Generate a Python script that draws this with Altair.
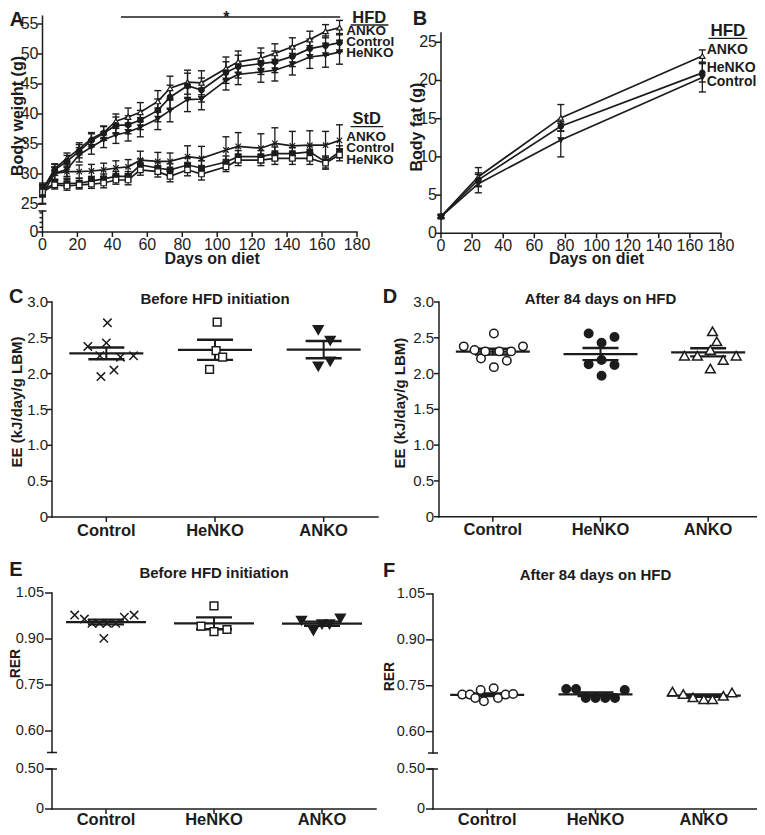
import altair as alt
import pandas as pd

FONT = "Liberation Sans"
INK = "#1c1c1c"
W, H = 749, 819          # drawing canvas (page minus the 8px margin)
XPATH = "M-1,-1L1,1M-1,1L1,-1"

# ================= A : body weight (g) =================
days_a = [0, 7, 14, 21, 28, 35, 42, 49, 56, 66, 73, 83, 91, 105, 112, 125, 133, 143, 153, 162, 170]
hfd_anko = [27.3, 30.9, 32.6, 34.2, 35.9, 36.9, 38.8, 39.5, 40.3, 42.1, 44.3, 45.3, 45.2, 47.6, 48.7, 49.3, 50.1, 51.2, 52.4, 53.8, 54.4]
hfd_anko_se = [1.0, 0.8, 0.9, 1.0, 1.0, 1.0, 1.2, 1.5, 1.6, 1.8, 2.0, 2.0, 2.0, 1.9, 1.8, 1.7, 1.6, 1.5, 1.4, 1.1, 1.2]
hfd_control = [27.2, 30.7, 32.1, 33.8, 35.6, 36.8, 38.1, 38.2, 39.0, 40.6, 42.8, 44.7, 44.0, 46.9, 47.9, 48.4, 48.7, 49.6, 50.9, 51.4, 51.9]
hfd_control_se = [1.0, 0.9, 1.0, 1.1, 1.1, 1.2, 1.4, 1.5, 1.6, 1.9, 2.0, 2.1, 2.0, 1.8, 1.9, 1.8, 1.8, 1.7, 1.6, 1.6, 1.5]
hfd_henko = [26.6, 30.1, 30.8, 33.2, 34.5, 35.7, 36.5, 37.0, 37.8, 39.2, 40.6, 42.4, 42.5, 45.6, 46.6, 47.0, 47.3, 48.3, 49.5, 49.8, 50.3]
hfd_henko_se = [1.5, 1.1, 1.2, 1.2, 1.2, 1.3, 1.4, 1.5, 1.6, 1.8, 1.9, 2.0, 1.8, 1.6, 1.7, 1.7, 1.8, 1.8, 1.9, 2.0, 2.0]
std_anko = [27.5, 30.1, 30.4, 30.4, 30.5, 30.7, 31.0, 31.2, 32.3, 32.1, 32.1, 32.9, 32.6, 34.0, 34.6, 34.3, 35.1, 34.7, 34.8, 34.8, 35.6]
std_anko_se = [1.0, 1.0, 1.1, 1.1, 1.1, 1.1, 1.2, 1.2, 1.5, 1.5, 1.4, 1.8, 2.0, 2.2, 2.3, 2.4, 2.6, 2.4, 2.4, 2.3, 2.6]
std_control = [27.3, 28.4, 28.4, 28.5, 28.8, 29.2, 29.6, 29.6, 31.5, 31.0, 30.7, 31.5, 31.0, 32.0, 32.9, 32.9, 33.4, 33.4, 33.7, 32.0, 33.7]
std_control_se = [0.8, 0.7, 0.7, 0.8, 0.8, 0.8, 0.8, 0.8, 1.0, 1.0, 1.0, 1.2, 1.2, 1.0, 1.0, 1.0, 1.1, 1.0, 1.0, 1.0, 1.0]
std_henko = [27.0, 28.2, 28.0, 28.2, 28.3, 28.5, 29.0, 29.0, 30.7, 30.4, 29.6, 30.7, 30.0, 31.2, 32.3, 32.3, 32.6, 32.6, 32.6, 31.8, 33.2]
std_henko_se = [0.8, 0.7, 0.7, 0.7, 0.7, 0.8, 0.7, 0.8, 0.9, 0.9, 0.9, 1.0, 1.0, 0.8, 0.9, 0.9, 1.0, 1.0, 1.0, 1.0, 1.0]
ticks_days = [0, 20, 40, 60, 80, 100, 120, 140, 160, 180]
labels_days = ["0", "20", "40", "60", "80", "100", "120", "140", "160", "180"]
ticks_a_major = [0, 25, 30, 35, 40, 45, 50, 55]
labels_a_major = ["0", "25", "30", "35", "40", "45", "50", "55"]
ticks_a_minor = [5, 10, 15, 20]

# ================= B : body fat (g) =================
days_b = [0, 24, 77, 168]
fat_anko = [2.2, 7.4, 15.1, 23.2]
fat_anko_se = [0.2, 1.2, 1.75, 0.8]
fat_henko = [2.2, 7.0, 14.0, 21.0]
fat_henko_se = [0.2, 0.9, 0.6, 1.2]
fat_control = [2.2, 6.5, 12.2, 20.4]
fat_control_se = [0.2, 1.2, 2.2, 1.9]
ticks_b = [0, 5, 10, 15, 20, 25]
labels_b = ["0", "5", "10", "15", "20", "25"]

# ================= C-F : scatter panels =================
groups = ["Control", "HeNKO", "ANKO"]
ee_pre_control = [2.71, 2.38, 2.43, 2.25, 2.23, 2.25, 2.05, 1.96]
ee_pre_control_jit = [0.01, -0.17, 0.0, -0.06, 0.13, 0.25, 0.07, -0.05]
ee_pre_henko = [2.72, 2.32, 2.23, 2.06]
ee_pre_henko_jit = [0.02, 0.01, 0.07, -0.05]
ee_pre_anko = [2.61, 2.46, 2.10, 2.17]
ee_pre_anko_jit = [-0.05, 0.06, -0.05, 0.06]

ee_post_control = [2.56, 2.38, 2.33, 2.38, 2.21, 2.31, 2.31, 2.31, 2.18, 2.09]
ee_post_control_jit = [0.01, -0.27, -0.17, 0.28, -0.11, -0.07, 0.06, 0.17, 0.13, 0.01]
ee_post_henko = [2.56, 2.51, 2.43, 2.13, 2.19, 2.12, 1.97]
ee_post_henko_jit = [-0.11, 0.13, 0.01, -0.11, 0.01, 0.13, 0.01]
ee_post_anko = [2.59, 2.45, 2.25, 2.25, 2.33, 2.19, 2.25, 2.07]
ee_post_anko_jit = [0.04, 0.08, -0.22, -0.10, 0.02, 0.14, 0.26, 0.02]

rer_pre_control = [0.978, 0.978, 0.971, 0.965, 0.951, 0.951, 0.951, 0.951, 0.902]
rer_pre_control_jit = [-0.29, 0.26, 0.17, -0.20, -0.13, -0.06, 0.01, 0.09, -0.02]
rer_pre_henko = [1.008, 0.942, 0.924, 0.931]
rer_pre_henko_jit = [0.0, -0.12, 0.0, 0.12]
rer_pre_anko = [0.960, 0.927, 0.967, 0.948, 0.948]
rer_pre_anko_jit = [-0.19, -0.08, 0.17, 0.0, 0.07]

rer_post_control = [0.721, 0.721, 0.736, 0.742, 0.710, 0.699, 0.710, 0.721, 0.723]
rer_post_control_jit = [-0.23, -0.16, -0.06, 0.06, -0.11, -0.03, 0.10, 0.17, 0.24]
rer_post_henko = [0.739, 0.739, 0.736, 0.710, 0.710, 0.710, 0.710]
rer_post_henko_jit = [-0.27, -0.18, 0.27, -0.09, 0.0, 0.09, 0.18]
rer_post_anko = [0.731, 0.723, 0.712, 0.706, 0.706, 0.717, 0.728]
rer_post_anko_jit = [-0.29, -0.19, -0.10, 0.0, 0.08, 0.18, 0.26]

ticks_ee = [0, 0.5, 1.0, 1.5, 2.0, 2.5, 3.0]
labels_ee = ["0", "0.5", "1.0", "1.5", "2.0", "2.5", "3.0"]
ticks_rer = [0, 0.5, 0.6, 0.75, 0.9, 1.05]
labels_rer = ["0", "0.50", "0.60", "0.75", "0.90", "1.05"]


# ---------------- helpers ----------------
def scale(domain, rng):
    return alt.Scale(domain=domain, range=rng, nice=False, zero=False)


def qx(field, sc):
    return alt.X(field, type="quantitative", scale=sc, axis=None)


def qy(field, sc):
    return alt.Y(field, type="quantitative", scale=sc, axis=None)


def text_layer(df, sc_x, sc_y, size, align="left", weight="bold", baseline="middle", **kw):
    return alt.Chart(df).mark_text(align=align, baseline=baseline, font=FONT, fontSize=size,
                                   fontWeight=weight, color=INK, **kw).encode(
        x=qx("x", sc_x), y=qy("y", sc_y), text="t:N")


def rule_h(x1, x2, y, sc_x, sc_y, width=1.5):
    df = pd.DataFrame({"x": x1, "x2": x2, "y": y})
    return alt.Chart(df).mark_rule(color=INK, strokeWidth=width, strokeCap="square").encode(
        x=qx("x", sc_x), x2="x2:Q", y=qy("y", sc_y))


def rule_v(x, y1, y2, sc_x, sc_y, width=1.5):
    df = pd.DataFrame({"x": [x] * len(y1), "y": y1, "y2": y2})
    return alt.Chart(df).mark_rule(color=INK, strokeWidth=width, strokeCap="square").encode(
        x=qx("x", sc_x), y=qy("y", sc_y), y2="y2:Q")


def x_axis(sc_x, sc_y, y0, ticks, labels, font, bold, label_off, tick_len=5):
    df = pd.DataFrame({"x": ticks, "y": [y0] * len(ticks), "t": labels})
    return [
        alt.Chart(df).mark_tick(orient="vertical", size=tick_len, thickness=1.5, color=INK,
                                opacity=1, yOffset=tick_len / 2).encode(x=qx("x", sc_x), y=qy("y", sc_y)),
        text_layer(df, sc_x, sc_y, font, align="center", weight="bold" if bold else "normal",
                   yOffset=label_off),
    ]


def y_axis(sc_x, sc_y, x0, ticks, labels, font, label_off, tick_len=5):
    df = pd.DataFrame({"x": [x0] * len(ticks), "y": ticks, "t": labels})
    layers = [alt.Chart(df).mark_tick(orient="horizontal", size=tick_len, thickness=1.5, color=INK,
                                      opacity=1, xOffset=-tick_len / 2).encode(
        x=qx("x", sc_x), y=qy("y", sc_y))]
    if labels is not None:
        layers.append(text_layer(df, sc_x, sc_y, font, align="right", weight="normal",
                                 xOffset=-label_off))
    return layers


def y_title(text, x, y, sc_x, sc_y, off, size):
    df = pd.DataFrame({"t": [text], "x": [x], "y": [y]})
    return text_layer(df, sc_x, sc_y, size, align="center", angle=270, xOffset=off)


def line_panel(series, days, styles, sc_x, sc_y, cap, msize):
    rows = []
    for key, (vals, ses) in series.items():
        for d, v, s in zip(days, vals, ses):
            rows.append(dict(key=key, day=d, value=v, lo=v - s, hi=v + s))
    df = pd.DataFrame(rows)
    base = alt.Chart(df)
    layers = [
        base.mark_line(color=INK, strokeWidth=1.7).encode(
            x=qx("day", sc_x), y=qy("value", sc_y), detail="key:N"),
        base.mark_rule(color=INK, strokeWidth=1.3).encode(
            x=qx("day", sc_x), y=qy("lo", sc_y), y2="hi:Q"),
        base.mark_tick(orient="horizontal", size=cap, thickness=1.4, color=INK, opacity=1).encode(
            x=qx("day", sc_x), y=qy("lo", sc_y)),
        base.mark_tick(orient="horizontal", size=cap, thickness=1.4, color=INK, opacity=1).encode(
            x=qx("day", sc_x), y=qy("hi", sc_y)),
    ]
    for key, st in styles.items():
        layers.append(base.transform_filter(alt.datum.key == key).mark_point(
            size=msize, strokeWidth=1.2, opacity=1, **st).encode(
            x=qx("day", sc_x), y=qy("value", sc_y)))
    return layers


# ---------------- Panel A ----------------
xA = scale([0, 180], [34.5, 349])
yA = scale([0, 22, 25, 55], [224, 203, 196, 16])
styles_a = {
    "HFD ANKO": dict(shape="triangle-up", filled=True, fill="white", stroke=INK),
    "HFD Control": dict(shape="circle", filled=True, fill=INK, stroke=INK),
    "HFD HeNKO": dict(shape="triangle-down", filled=True, fill=INK, stroke=INK),
    "StD ANKO": dict(shape=XPATH, filled=False, stroke=INK),
    "StD Control": dict(shape="square", filled=True, fill=INK, stroke=INK),
    "StD HeNKO": dict(shape="square", filled=True, fill="white", stroke=INK),
}
series_a = {
    "HFD ANKO": (hfd_anko, hfd_anko_se), "HFD Control": (hfd_control, hfd_control_se),
    "HFD HeNKO": (hfd_henko, hfd_henko_se), "StD ANKO": (std_anko, std_anko_se),
    "StD Control": (std_control, std_control_se), "StD HeNKO": (std_henko, std_henko_se),
}
layers_a = line_panel(series_a, days_a, styles_a, xA, yA, cap=7, msize=30)
layers_a.append(rule_h([0], [180], [0], xA, yA))
layers_a.append(rule_v(0, [0, 25], [22, 56.3], xA, yA))
layers_a.append(alt.Chart(pd.DataFrame({"x": [0, 0], "y": [22, 25]})).mark_tick(
    orient="horizontal", size=8, thickness=1.5, color=INK, opacity=1).encode(x=qx("x", xA), y=qy("y", yA)))
layers_a += x_axis(xA, yA, 0, ticks_days, labels_days, 16, False, 12.5)
layers_a += y_axis(xA, yA, 0, ticks_a_major, labels_a_major, 16, 4)
layers_a += y_axis(xA, yA, 0, ticks_a_minor, None, 16, 4, tick_len=3)
layers_a.append(y_title("Body weight (g)", 0, 39.67, xA, yA, -25, 16))
layers_a.append(text_layer(pd.DataFrame({"t": ["Days on diet"], "x": [97.1], "y": [0]}), xA, yA, 16,
                           align="center", yOffset=27))
labA = pd.DataFrame({
    "t": ["ANKO", "Control", "HeNKO", "ANKO", "Control", "HeNKO"],
    "x": [173.8] * 6,
    "y": [53.83, 52.08, 50.25, 36.2, 34.3, 32.3]})
layers_a.append(text_layer(labA, xA, yA, 13.5))
headA = pd.DataFrame({"t": ["HFD", "StD"], "x": [187, 185.5], "y": [56.0, 39.2]})
layers_a.append(text_layer(headA, xA, yA, 16.5, align="center"))
layers_a.append(rule_h([176.7, 176.7, 45.3], [197.6, 194.7, 170], [54.83, 37.9, 56.17], xA, yA, width=1.3))
layers_a.append(text_layer(pd.DataFrame({"t": ["*"], "x": [105.3], "y": [55.25]}), xA, yA, 16,
                           align="center", baseline="alphabetic"))
layers_a.append(text_layer(pd.DataFrame({"t": ["A"], "x": [-14.6], "y": [55.67]}), xA, yA, 20, align="center"))
panelA = alt.layer(*layers_a)

# ---------------- Panel B ----------------
xB = scale([0, 180], [433, 713])
yB = scale([0, 26.2], [225.3, 25.1])
styles_b = {
    "ANKO": dict(shape="triangle-up", filled=True, fill="white", stroke=INK),
    "HeNKO": dict(shape="circle", filled=True, fill=INK, stroke=INK),
    "Control": dict(shape="triangle-down", filled=True, fill=INK, stroke=INK),
}
series_b = {"ANKO": (fat_anko, fat_anko_se), "HeNKO": (fat_henko, fat_henko_se),
            "Control": (fat_control, fat_control_se)}
layers_b = line_panel(series_b, days_b, styles_b, xB, yB, cap=7, msize=28)
layers_b.append(rule_h([0], [180], [0], xB, yB))
layers_b.append(rule_v(0, [0], [26.2], xB, yB))
layers_b += x_axis(xB, yB, 0, ticks_days, labels_days, 16, False, 12.5)
layers_b += y_axis(xB, yB, 0, ticks_b, labels_b, 16, 4)
layers_b.append(y_title("Body fat (g)", 0, 13.9, xB, yB, -24, 16))
layers_b.append(text_layer(pd.DataFrame({"t": ["Days on diet"], "x": [100], "y": [0]}), xB, yB, 16,
                           align="center", yOffset=26))
labB = pd.DataFrame({"t": ["ANKO", "HeNKO", "Control"], "x": [170.8] * 3, "y": [24.0, 21.6, 19.8]})
layers_b.append(text_layer(labB, xB, yB, 14))
layers_b.append(text_layer(pd.DataFrame({"t": ["HFD"], "x": [184.4], "y": [26.5]}), xB, yB, 17, align="center"))
layers_b.append(rule_h([172.4], [196.5], [25.5], xB, yB, width=1.3))
layers_b.append(text_layer(pd.DataFrame({"t": ["B"], "x": [-13.5], "y": [28.0]}), xB, yB, 20, align="center"))
panelB = alt.layer(*layers_b)


# ---------------- strip panels ----------------
def strip_panel(vals, jits, styles, sc_x, sc_y, y_ticks, y_labels, y_tick_len, y_label_off,
                y_title_text, y_title_val, y_title_off, title, title_y, letter, letter_xy,
                broken=None, mean_size=74, cat_off=13.5, y_font=15, y_title_font=15):
    rows = []
    for ci, g in enumerate(groups):
        for v, j in zip(vals[ci], jits[ci]):
            rows.append(dict(grp=g, cat=ci, v=v, jit=j))
    df = pd.DataFrame(rows)
    agg = alt.Chart(df).transform_aggregate(
        m="mean(v)", se="stderr(v)", groupby=["cat"]).transform_calculate(
        lo="datum.m - datum.se", hi="datum.m + datum.se")
    layers = [
        agg.mark_tick(orient="horizontal", size=mean_size, thickness=2.2, color=INK, opacity=1).encode(
            x=qx("cat", sc_x), y=qy("m", sc_y)),
        agg.mark_rule(color=INK, strokeWidth=2).encode(x=qx("cat", sc_x), y=qy("lo", sc_y), y2="hi:Q"),
        agg.mark_tick(orient="horizontal", size=36, thickness=2.4, color=INK, opacity=1).encode(
            x=qx("cat", sc_x), y=qy("lo", sc_y)),
        agg.mark_tick(orient="horizontal", size=36, thickness=2.4, color=INK, opacity=1).encode(
            x=qx("cat", sc_x), y=qy("hi", sc_y)),
    ]
    pts = alt.Chart(df).transform_calculate(xp="datum.cat + datum.jit")
    for g in groups:
        layers.append(pts.transform_filter(alt.datum.grp == g).mark_point(
            strokeWidth=1.5, opacity=1, **styles[g]).encode(x=qx("xp", sc_x), y=qy("v", sc_y)))
    # axes
    layers.append(rule_h([-0.5], [2.5], [0], sc_x, sc_y))
    if broken is None:
        layers.append(rule_v(-0.5, [0], [y_ticks[-1]], sc_x, sc_y))
    else:
        lo_top, up_bot, top = broken
        layers.append(rule_v(-0.5, [0, up_bot], [lo_top, top], sc_x, sc_y))
        layers.append(alt.Chart(pd.DataFrame({"x": [-0.5, -0.5], "y": [lo_top, up_bot]})).mark_tick(
            orient="horizontal", size=10, thickness=1.5, color=INK, opacity=1).encode(
            x=qx("x", sc_x), y=qy("y", sc_y)))
    layers += x_axis(sc_x, sc_y, 0, [0, 1, 2], groups, 16.5, True, cat_off)
    layers += y_axis(sc_x, sc_y, -0.5, y_ticks, y_labels, y_font, y_label_off, tick_len=y_tick_len)
    layers.append(y_title(y_title_text, -0.5, y_title_val, sc_x, sc_y, y_title_off, y_title_font))
    layers.append(text_layer(pd.DataFrame({"t": [title], "x": [1], "y": [title_y]}), sc_x, sc_y, 15,
                             align="center"))
    layers.append(text_layer(pd.DataFrame({"t": [letter], "x": [letter_xy[0]], "y": [letter_xy[1]]}),
                             sc_x, sc_y, 20, align="center"))
    return alt.layer(*layers)


styles_cross = {
    "Control": dict(shape=XPATH, filled=False, stroke=INK, size=70),
    "HeNKO": dict(shape="square", filled=True, fill="white", stroke=INK, size=60),
    "ANKO": dict(shape="triangle-down", filled=True, fill=INK, stroke=INK, size=95),
}
styles_circle = {
    "Control": dict(shape="circle", filled=True, fill="white", stroke=INK, size=72),
    "HeNKO": dict(shape="circle", filled=True, fill=INK, stroke=INK, size=72),
    "ANKO": dict(shape="triangle-up", filled=True, fill="white", stroke=INK, size=95),
}

panelC = strip_panel(
    [ee_pre_control, ee_pre_henko, ee_pre_anko], [ee_pre_control_jit, ee_pre_henko_jit, ee_pre_anko_jit],
    styles_cross, scale([-0.5, 2.5], [44, 370]), scale([0, 3], [509, 294]), ticks_ee, labels_ee, 5, 4,
    "EE (kJ/day/g LBM)", 1.605, -35, "Before HFD initiation", 3.04, "C", (-0.83, 3.074))
panelD = strip_panel(
    [ee_post_control, ee_post_henko, ee_post_anko], [ee_post_control_jit, ee_post_henko_jit, ee_post_anko_jit],
    styles_circle, scale([-0.5, 2.5], [431, 754]), scale([0, 3], [508.7, 294]), ticks_ee, labels_ee, 5, 5,
    "EE (kJ/day/g LBM)", 1.587, -39, "After 84 days on HFD", 3.04, "D", (-0.955, 3.07))
panelE = strip_panel(
    [rer_pre_control, rer_pre_henko, rer_pre_anko], [rer_pre_control_jit, rer_pre_henko_jit, rer_pre_anko_jit],
    styles_cross, scale([-0.5, 2.5], [44, 368]), scale([0, 0.5, 0.53, 1.05], [801, 761, 744.5, 585]),
    ticks_rer, labels_rer, 7, 8, "RER", 0.82, -36, "Before HFD initiation", 1.115, "E", (-0.833, 1.125),
    broken=(0.5, 0.53, 1.05), mean_size=80, cat_off=11, y_font=14.5, y_title_font=14)
panelF = strip_panel(
    [rer_post_control, rer_post_henko, rer_post_anko], [rer_post_control_jit, rer_post_henko_jit, rer_post_anko_jit],
    styles_circle, scale([-0.5, 2.5], [425, 750]), scale([0, 0.5, 0.53, 1.05], [801, 761, 745, 586]),
    ticks_rer, labels_rer, 7, 8, "RER", 0.78, -43, "After 84 days on HFD", 1.113, "F", (-0.906, 1.125),
    broken=(0.5, 0.53, 1.05), cat_off=11, y_font=14.5, y_title_font=14)

chart = alt.layer(panelA, panelB, panelC, panelD, panelE, panelF).resolve_scale(
    x="independent", y="independent"
).properties(
    width=W, height=H, padding=0, autosize=alt.AutoSizeParams(type="none"), background="white"
).configure_view(stroke=None)

chart.save("out.html", embed_options={"renderer": "svg", "actions": False})
